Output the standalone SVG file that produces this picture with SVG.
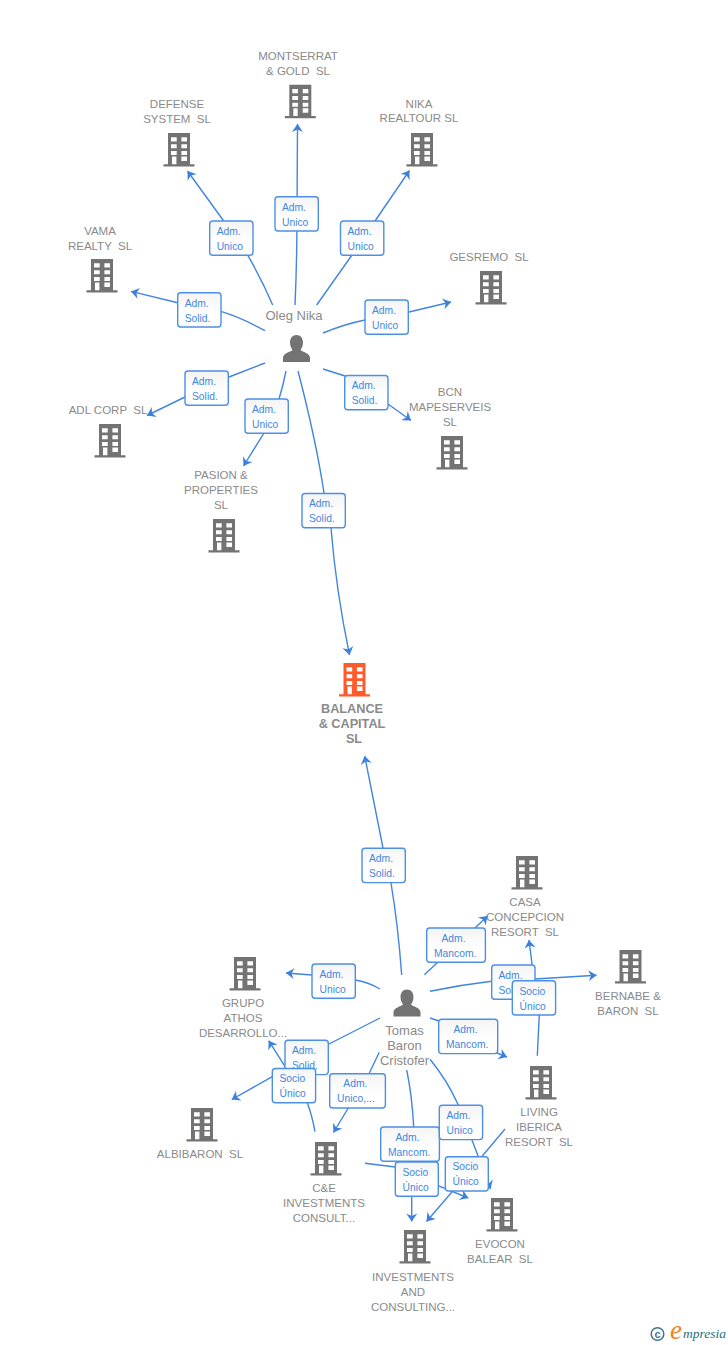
<svg xmlns="http://www.w3.org/2000/svg" width="728" height="1345" viewBox="0 0 728 1345">
<style>
text{font-family:"Liberation Sans",Arial,sans-serif;white-space:pre}
.n{font-size:11.5px;fill:#8a8a8a;text-anchor:middle}
.b{font-weight:bold;font-size:12.7px}
.p{font-size:13px}
.e{fill:none;stroke:#4285e0;stroke-width:1.4;marker-end:url(#a)}
.r{fill:url(#g);stroke:#4c8fe6;stroke-width:1.4}
.l{font-size:10.3px;fill:#3f86e0}
</style>
<defs>
<linearGradient id="g" x1="0" y1="0" x2="0" y2="1"><stop offset="0" stop-color="#f4f4f4"/><stop offset=".6" stop-color="#fff"/></linearGradient>
<marker id="a" markerUnits="userSpaceOnUse" markerWidth="12" markerHeight="14" refX="8" refY="7" orient="auto" overflow="visible"><path d="M8,7 L0,1.5 L2.5,7 L0,12.5 Z" fill="#3b80de" stroke="none"/></marker>
<path id="bd" fill-rule="evenodd" d="M-11,0H11V31.3H15.5V33.6H-15.5V31.3H-11ZM-8,4.3V8.6H-2.3V4.3ZM2.4,4.3V8.6H8V4.3ZM-8,11.3V15.3H-2.3V11.3ZM2.4,11.3V15.3H8V11.3ZM-8,18V22H-2.3V18ZM2.4,18V22H8V18ZM-7,23.6V31.3H-2.6V23.6ZM2.4,23.6V28H8V23.6Z"/>
<path id="pr" d="M0,0C4,0 6.5,3 6.5,7.5C6.5,11 5,13.5 4,15C6,17 13.5,18 13.5,23V27H-13.5V23C-13.5,18 -6,17 -4,15C-5,13.5 -6.5,11 -6.5,7.5C-6.5,3 -4,0 0,0Z" fill="#737373"/>
</defs>
<rect width="728" height="1345" fill="#fff"/>
<g id="connectors">
<path class="e" d="M295,305Q297,260 297,214L297.5,124"/>
<path class="e" d="M272.7,305Q262,280 248,255.7L223,220L187.5,171"/>
<path class="e" d="M265,330.7Q242,318 221.7,311.7L177.7,302.7L131,291.4"/>
<path class="e" d="M316.7,305L352,255L375,221L409.5,170.5"/>
<path class="e" d="M323,333Q345,324 365,320L409,312L451,302"/>
<path class="e" d="M323,369L345,376L388,404L411,420.5"/>
<path class="e" d="M265,363L229,377L185,397L147,415.5"/>
<path class="e" d="M286,371Q283,386 279,399L264,433L243.5,466"/>
<path class="e" d="M298,371Q316,440 324,493L331,528Q336,590 349.5,655"/>
<path class="e" d="M401.7,975Q398,925 391,883L383,848L364.7,756"/>
<path class="e" d="M424.3,974.7L437.3,962.7L475,928L487.5,916"/>
<path class="e" d="M430,991.3Q460,985 491.7,981.3L534.7,979L596.5,975.3"/>
<path class="e" d="M537.3,1055.7L539.3,1014.7L534,980L529,940"/>
<path class="e" d="M430,1018L439,1021L497,1053L507,1057"/>
<path class="e" d="M380,989Q368,982 355,980L312,975L286,973"/>
<path class="e" d="M380,1018L329,1044L286,1068L268.7,1040.7"/>
<path class="e" d="M315,1131.7Q312,1115 307.3,1102.7L272.3,1076.7L231.7,1099.5"/>
<path class="e" d="M379.3,1052.3L369,1073.7L348.3,1108L333.5,1132.5"/>
<path class="e" d="M406.7,1070Q412,1095 413.7,1127L411.7,1196V1221.5"/>
<path class="e" d="M430,1059.3Q447,1080 458.3,1105L471.7,1139.3L490.5,1189"/>
<path class="e" d="M365,1163.3L395.3,1167L438,1185.7L468.3,1198"/>
<path class="e" d="M505,1129L481.7,1156.7L451.7,1192.3L426.5,1221.5"/>
</g>
<g id="edge-labels">
<g><rect class="r" x="209.7" y="221" width="43.3" height="34.3" rx="3"/><text class="l" x="216.7" y="234.5">Adm.</text><text class="l" x="216.7" y="249.5">Unico</text></g>
<g><rect class="r" x="275" y="196.7" width="43.3" height="34.3" rx="3"/><text class="l" x="282" y="210.5">Adm.</text><text class="l" x="282" y="225.5">Unico</text></g>
<g><rect class="r" x="340.5" y="221" width="43.3" height="34.3" rx="3"/><text class="l" x="347.5" y="234.5">Adm.</text><text class="l" x="347.5" y="249.5">Unico</text></g>
<g><rect class="r" x="177.7" y="292.7" width="43.3" height="34.3" rx="3"/><text class="l" x="184.7" y="306.5">Adm.</text><text class="l" x="184.7" y="321.5">Solid.</text></g>
<g><rect class="r" x="365" y="300" width="43.3" height="34.3" rx="3"/><text class="l" x="372" y="313.5">Adm.</text><text class="l" x="372" y="328.5">Unico</text></g>
<g><rect class="r" x="344.7" y="375.5" width="43.3" height="34.3" rx="3"/><text class="l" x="351.7" y="389">Adm.</text><text class="l" x="351.7" y="404">Solid.</text></g>
<g><rect class="r" x="185" y="371" width="43.3" height="34.3" rx="3"/><text class="l" x="192" y="384.5">Adm.</text><text class="l" x="192" y="399.5">Solid.</text></g>
<g><rect class="r" x="245" y="399" width="43.3" height="34.3" rx="3"/><text class="l" x="252" y="412.5">Adm.</text><text class="l" x="252" y="427.5">Unico</text></g>
<g><rect class="r" x="302" y="493.5" width="43.3" height="34.3" rx="3"/><text class="l" x="309" y="507">Adm.</text><text class="l" x="309" y="522">Solid.</text></g>
<g><rect class="r" x="362" y="848.3" width="43.3" height="34.3" rx="3"/><text class="l" x="369" y="862">Adm.</text><text class="l" x="369" y="877">Solid.</text></g>
<g><rect class="r" x="426.7" y="928" width="58.7" height="34.3" rx="3"/><text class="l" x="441.5" y="941.5">Adm.</text><text class="l" x="434" y="956.5">Mancom.</text></g>
<g><rect class="r" x="491.7" y="965" width="43.3" height="34.3" rx="3"/><text class="l" x="498.5" y="978.5">Adm.</text><text class="l" x="498.5" y="993.5">Solid.</text></g>
<g><rect class="r" x="512.3" y="980.7" width="43.3" height="34.3" rx="3"/><text class="l" x="519.5" y="994.5">Socio</text><text class="l" x="519.5" y="1009.5">Único</text></g>
<g><rect class="r" x="438.7" y="1019.3" width="59" height="34.3" rx="3"/><text class="l" x="453.5" y="1032.5">Adm.</text><text class="l" x="446" y="1047.5">Mancom.</text></g>
<g><rect class="r" x="312" y="964" width="43.3" height="34.3" rx="3"/><text class="l" x="319.5" y="977.5">Adm.</text><text class="l" x="319.5" y="992.5">Unico</text></g>
<g><rect class="r" x="285" y="1040.3" width="43.3" height="34.3" rx="3"/><text class="l" x="292" y="1053.5">Adm.</text><text class="l" x="292" y="1068.5">Solid.</text></g>
<g><rect class="r" x="272.3" y="1068.5" width="43.3" height="34.3" rx="3"/><text class="l" x="279.5" y="1082">Socio</text><text class="l" x="279.5" y="1097">Único</text></g>
<g><rect class="r" x="329.7" y="1073.7" width="55.7" height="34.3" rx="3"/><text class="l" x="343.3" y="1087">Adm.</text><text class="l" x="337" y="1102">Unico,...</text></g>
<g><rect class="r" x="380.7" y="1127" width="58.7" height="34.3" rx="3"/><text class="l" x="395.5" y="1140.5">Adm.</text><text class="l" x="388" y="1155.5">Mancom.</text></g>
<g><rect class="r" x="395.3" y="1162" width="43" height="34.3" rx="3"/><text class="l" x="402.5" y="1175.5">Socio</text><text class="l" x="402.5" y="1190.5">Único</text></g>
<g><rect class="r" x="439.3" y="1105.3" width="43.3" height="34.3" rx="3"/><text class="l" x="446.5" y="1118.5">Adm.</text><text class="l" x="446.5" y="1133.5">Unico</text></g>
<g><rect class="r" x="445.3" y="1156.7" width="43" height="34.3" rx="3"/><text class="l" x="452.5" y="1170">Socio</text><text class="l" x="452.5" y="1185">Único</text></g>
</g>
<g id="n-montserrat" fill="#737373"><use href="#bd" x="300.3" y="84.7"/><text class="n" x="298" y="60">MONTSERRAT</text><text class="n" x="298" y="75">&amp; GOLD  SL</text></g>
<g id="n-defense" fill="#737373"><use href="#bd" x="179" y="133"/><text class="n" x="177" y="108">DEFENSE</text><text class="n" x="177" y="123">SYSTEM  SL</text></g>
<g id="n-nika" fill="#737373"><use href="#bd" x="422" y="133"/><text class="n" x="419" y="108">NIKA</text><text class="n" x="419" y="122">REALTOUR SL</text></g>
<g id="n-vama" fill="#737373"><use href="#bd" x="102" y="259"/><text class="n" x="100" y="235">VAMA</text><text class="n" x="100" y="250">REALTY  SL</text></g>
<g id="n-gesremo" fill="#737373"><use href="#bd" x="491" y="271"/><text class="n" x="489" y="261">GESREMO  SL</text></g>
<g id="n-bcn" fill="#737373"><use href="#bd" x="452" y="436"/><text class="n" x="450" y="396">BCN</text><text class="n" x="450" y="411">MAPESERVEIS</text><text class="n" x="450" y="426">SL</text></g>
<g id="n-adl" fill="#737373"><use href="#bd" x="110" y="424"/><text class="n" x="108" y="414">ADL CORP  SL</text></g>
<g id="n-pasion" fill="#737373"><use href="#bd" x="224" y="519"/><text class="n" x="221" y="479">PASION &amp;</text><text class="n" x="221" y="494">PROPERTIES</text><text class="n" x="221" y="509">SL</text></g>
<g id="n-balance" fill="#ff5a2c"><use href="#bd" x="354.5" y="663"/><text class="n b" x="352" y="713">BALANCE</text><text class="n b" x="352" y="728">&amp; CAPITAL</text><text class="n b" x="354" y="743">SL</text></g>
<g id="n-casa" fill="#737373"><use href="#bd" x="527" y="856"/><text class="n" x="525" y="906">CASA</text><text class="n" x="525" y="921">CONCEPCION</text><text class="n" x="525" y="936">RESORT  SL</text></g>
<g id="n-bernabe" fill="#737373"><use href="#bd" x="630.5" y="950"/><text class="n" x="628" y="1000">BERNABE &amp;</text><text class="n" x="628" y="1015">BARON  SL</text></g>
<g id="n-grupo" fill="#737373"><use href="#bd" x="245" y="957"/><text class="n" x="243" y="1007">GRUPO</text><text class="n" x="243" y="1022">ATHOS</text><text class="n" x="243" y="1037">DESARROLLO...</text></g>
<g id="n-living" fill="#737373"><use href="#bd" x="541" y="1066"/><text class="n" x="539" y="1116">LIVING</text><text class="n" x="539" y="1131">IBERICA</text><text class="n" x="539" y="1146">RESORT  SL</text></g>
<g id="n-albibaron" fill="#737373"><use href="#bd" x="202" y="1108"/><text class="n" x="200" y="1158">ALBIBARON  SL</text></g>
<g id="n-ce" fill="#737373"><use href="#bd" x="326" y="1142"/><text class="n" x="324" y="1192">C&amp;E</text><text class="n" x="324" y="1207">INVESTMENTS</text><text class="n" x="324" y="1222">CONSULT...</text></g>
<g id="n-evocon" fill="#737373"><use href="#bd" x="502" y="1198"/><text class="n" x="500" y="1248">EVOCON</text><text class="n" x="500" y="1263">BALEAR  SL</text></g>
<g id="n-investments" fill="#737373"><use href="#bd" x="415" y="1230"/><text class="n" x="413" y="1281">INVESTMENTS</text><text class="n" x="413" y="1296">AND</text><text class="n" x="413" y="1311">CONSULTING...</text></g>
<g id="n-oleg"><use href="#pr" x="296.5" y="335"/><text class="n p" x="294" y="320">Oleg Nika</text></g>
<g id="n-tomas"><use href="#pr" x="407" y="989.5"/><text class="n p" x="404.5" y="1035">Tomas</text><text class="n p" x="404.5" y="1050">Baron</text><text class="n p" x="404.5" y="1065">Cristofer</text></g>
<g id="logo"><circle cx="657.5" cy="1334" r="6.3" fill="none" stroke="#44748a" stroke-width="1.5"/><text x="657.5" y="1337.5" font-size="11" font-weight="bold" fill="#44748a" text-anchor="middle">c</text><text x="670" y="1339" style="font-family:'Liberation Serif',serif;font-style:italic" font-size="27" fill="#f58220">e</text><text x="683" y="1338" style="font-family:'Liberation Serif',serif;font-style:italic" font-size="13.5" fill="#1f6f80">mpresia</text></g>
</svg>
